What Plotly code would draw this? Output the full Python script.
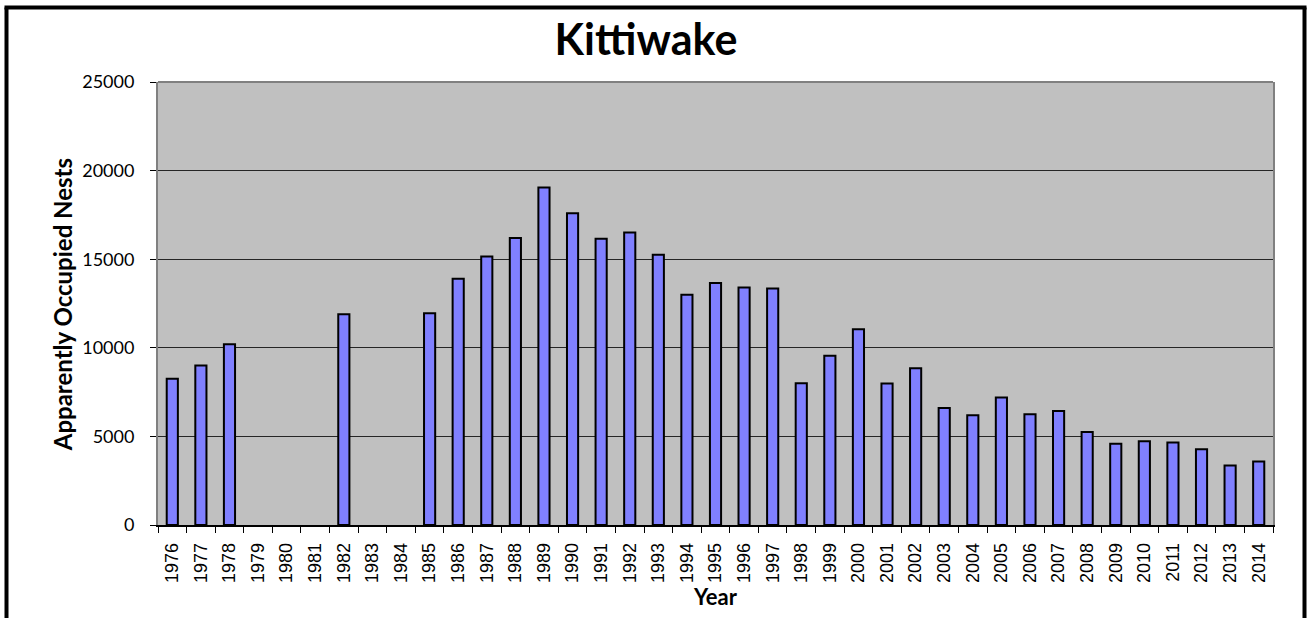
import plotly.graph_objects as go

years = [str(y) for y in range(1976, 2015)]
nests = [8250, 9000, 10200, None, None, None, 11900, None, None, 11950,
         13900, 15150, 16200, 19050, 17600, 16150, 16500, 15250, 13000, 13650,
         13400, 13350, 8000, 9550, 11050, 7980, 8850, 6600, 6200, 7200,
         6250, 6430, 5250, 4580, 4720, 4660, 4280, 3360, 3590]
y_ticks = [0, 5000, 10000, 15000, 20000, 25000]
y_labels = [str(v) for v in y_ticks]

W, H = 1307, 618
L, R, T, B = 158, 1273, 82, 525.5

def px(x):
    return (x - L) / (R - L)

def py(y):
    return (B - y) / (B - T)

fig = go.Figure()
fig.add_trace(go.Bar(
    x=years, y=nests, width=0.39,
    marker=dict(color="#8080FF", line=dict(color="black", width=2)),
))

fig.update_layout(
    width=W, height=H,
    margin=dict(l=L, r=W - R, t=T, b=H - B),
    paper_bgcolor="white",
    plot_bgcolor="#C0C0C0",
    showlegend=False,
    title=dict(text="<b>Kittiwake</b>", xref="container", x=646 / W,
               xanchor="center", y=1 - 40 / H, yanchor="middle",
               font=dict(family="Lato", size=43, color="black")),
    xaxis=dict(
        type="category", tickangle=-90, tickson="boundaries",
        ticks="outside", ticklen=6, tickcolor="black", tickwidth=1,
        ticklabelstandoff=9,
        showline=True, linecolor="black", linewidth=1.5,
        showgrid=False,
        tickfont=dict(family="Liberation Sans", size=18, color="black"),
        title=dict(text="<b>Year</b>", standoff=8,
                   font=dict(family="Lato", size=22, color="black")),
    ),
    yaxis=dict(
        range=[0, 25000], tickvals=y_ticks, ticktext=y_labels,
        ticks="outside", ticklen=6, tickcolor="black", tickwidth=1,
        ticklabelstandoff=12,
        showline=True, linecolor="#808080", linewidth=2, mirror=True,
        showgrid=True, gridcolor="#262626", gridwidth=1,
        zeroline=False,
        tickfont=dict(family="Lato", size=18, color="black"),
    ),
    annotations=[dict(
        text="<b>Apparently Occupied Nests</b>", textangle=-90,
        xref="paper", yref="paper", x=px(62.5), y=py(305),
        xanchor="center", yanchor="middle", showarrow=False,
        font=dict(family="Lato", size=24, color="black"),
    )],
    shapes=[
        dict(type="line", xref="paper", yref="paper", x0=0, x1=1, y0=1, y1=1,
             line=dict(color="#808080", width=2)),
        dict(type="line", xref="paper", yref="paper",
             x0=px(6.5), x1=px(6.5), y0=py(7.5), y1=py(640),
             line=dict(color="black", width=4)),
        dict(type="line", xref="paper", yref="paper",
             x0=px(1304.5), x1=px(1304.5), y0=py(7.5), y1=py(640),
             line=dict(color="black", width=4)),
        dict(type="line", xref="paper", yref="paper",
             x0=px(4.5), x1=px(1306.5), y0=py(7.5), y1=py(7.5),
             line=dict(color="black", width=4)),
    ],
)

fig.write_html("out.html", config={"displayModeBar": False},
               post_script="document.body.style.margin='0';document.body.style.overflow='hidden';")
